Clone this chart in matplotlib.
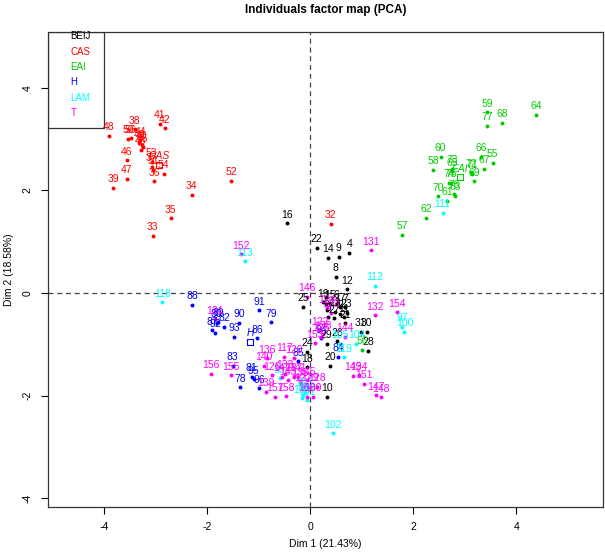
import matplotlib.pyplot as plt
from matplotlib.patches import Rectangle

plt.rcParams['font.family'] = ['Liberation Sans', 'DejaVu Sans']
plt.rcParams['axes.unicode_minus'] = False

# individuals per group: labels, Dim 1, Dim 2
beij_ids = [16, 22, 14, 9, 4, 8, 12, 25, 19, 1, 15, 6, 17, 7, 5, 13, 2, 23, 11, 3,
            21, 31, 30, 28, 20, 18, 10, 29, 24, 26, 27]
beij_x = [-0.45, 0.13, 0.35, 0.56, 0.76, 0.50, 0.71, -0.14, 0.26, 0.31, 0.39, 0.52, 0.58, 0.68,
          0.32, 0.48, 0.58, 0.71, 0.65, 0.35, 0.68, 0.98, 1.10, 1.13, 0.39, -0.06, 0.32, 0.32,
          -0.06, 0.52, 0.47]
beij_y = [1.36, 0.88, 0.69, 0.71, 0.79, 0.32, 0.08, -0.27, -0.18, -0.22, -0.20, -0.20, -0.27,
          -0.28, -0.33, -0.36, -0.40, -0.38, -0.47, -0.46, -0.59, -0.75, -0.75, -1.12, -1.42,
          -1.45, -2.02, -0.99, -1.14, -0.94, -0.49]

cas_ids = [32, 33, 34, 35, 36, 37, 38, 39, 40, 41, 42, 43, 44, 45, 46, 47, 48, 49, 50, 51,
           52, 53, 54, 56]
cas_x = [0.40, -3.05, -2.29, -2.70, -3.02, -3.07, -3.40, -3.82, -3.26, -2.91, -2.82, -3.28,
         -3.29, -3.24, -3.55, -3.55, -3.90, -3.31, -3.52, -3.04, -1.53, -3.07, -2.84, -3.48]
cas_y = [1.35, 1.12, 1.92, 1.46, 2.18, 2.46, 3.19, 2.05, 2.89, 3.30, 3.21, 2.79, 2.98, 2.84,
         2.59, 2.23, 3.07, 2.92, 3.01, 2.40, 2.19, 2.56, 2.33, 3.02]

eai_ids = [55, 57, 58, 59, 60, 61, 62, 63, 64, 65, 66, 67, 68, 69, 70, 71, 72, 73, 74, 75,
           76, 77, 56]
eai_x = [3.54, 1.78, 2.39, 3.44, 2.53, 2.66, 2.25, 2.82, 4.38, 2.75, 3.31, 3.38, 3.72, 3.18,
         2.48, 3.15, 3.13, 2.76, 2.69, 2.73, 2.79, 3.43, 1.01]
eai_y = [2.54, 1.14, 2.40, 3.53, 2.66, 1.80, 1.47, 1.90, 3.48, 2.38, 2.66, 2.42, 3.32, 2.18,
         1.89, 2.33, 2.36, 2.42, 2.15, 2.15, 1.94, 3.26, -1.10]

h_ids = [78, 79, 80, 81, 82, 83, 84, 85, 86, 87, 88, 89, 90, 91, 92, 93, 94, 95, 96]
h_x = [-1.35, -0.75, -1.81, -1.13, -1.66, -1.50, 0.54, -0.23, -1.03, -1.90, -2.28, -1.78,
       -1.37, -0.99, -1.84, -1.47, 0.21, -1.09, -0.99]
h_y = [-1.84, -0.57, -0.58, -1.63, -0.66, -1.42, -1.24, -1.33, -0.88, -0.72, -0.23, -0.56,
       -0.58, -0.33, -0.77, -0.85, -0.88, -1.68, -1.86]

lam_ids = [97, 98, 99, 100, 101, 102, 103, 104, 105, 108, 111, 112, 113, 118, 119]
lam_x = [1.78, -0.59, -0.13, 1.83, -0.06, 0.44, -0.10, 0.90, 0.58, -0.16, 2.57, 1.26, -1.26,
         -2.86, 0.65]
lam_y = [-0.66, -1.66, -1.99, -0.75, -2.09, -2.73, -1.92, -0.99, -0.99, -2.05, 1.57, 0.14,
         0.62, -0.18, -1.25]

t_ids = [117, 120, 121, 122, 123, 124, 125, 126, 127, 128, 129, 130, 131, 132, 133, 134, 135,
         136, 137, 138, 139, 140, 141, 142, 143, 144, 145, 146, 147, 148, 149, 150, 151, 152,
         153, 154, 155, 156, 157, 158]
t_x = [-0.50, -0.32, -1.84, 0.19, 0.40, 0.33, 0.22, -0.74, -0.13, 0.13, 0.00, 0.06, 1.18, 1.26,
       -0.48, 0.94, -0.19, -0.83, -0.32, 0.25, -0.85, -0.90, -0.23, -0.55, -0.42, 0.68, -0.06,
       -0.06, 1.28, 1.38, 0.84, -0.06, 1.05, -1.34, 0.10, 1.69, -1.53, -1.92, -0.68, -0.47]
t_y = [-1.24, -1.27, -0.51, -0.72, -0.38, -0.30, -0.85, -1.60, -1.83, -1.83, -1.83, -2.02, 0.84,
       -0.43, -1.57, -1.60, -1.73, -1.27, -1.63, -0.80, -1.92, -1.42, -1.63, -1.63, -1.70, -0.85,
       -1.70, -0.07, -1.99, -2.03, -1.61, -2.02, -1.77, 0.76, -0.98, -0.37, -1.60, -1.57, -2.02,
       -2.01]

# group means (quali labels)
mean_names = ['CAS', 'EAI', 'H']
mean_x = [-2.92, 2.91, -1.16]
mean_y = [2.50, 2.26, -0.95]

group_names = ['BEIJ', 'CAS', 'EAI', 'H', 'LAM', 'T']
group_colors = ['black', '#FF0000', '#00CD00', '#0000FF', '#00FFFF', '#FF00FF']

groups = [(beij_ids, beij_x, beij_y), (cas_ids, cas_x, cas_y), (eai_ids, eai_x, eai_y),
          (h_ids, h_x, h_y), (lam_ids, lam_x, lam_y), (t_ids, t_x, t_y)]

fig = plt.figure(figsize=(6.05, 5.58), dpi=100)
ax = fig.add_axes([0.0793, 0.0914, 0.9174, 0.8513])

ax.axhline(0, color='#444444', lw=0.9, ls=(0, (4, 3)), zorder=1)
ax.axvline(0, color='#444444', lw=0.9, ls=(0, (4, 3)), zorder=1)

for (ids, xs, ys), col in zip(groups, group_colors):
    ax.scatter(xs, ys, s=8, color=col, zorder=3, linewidths=0)
    for i, x, y in zip(ids, xs, ys):
        ax.annotate(str(i), (x, y), xytext=(0, 2.5), textcoords='offset points',
                    ha='center', va='bottom', fontsize=7.5, color=col, zorder=4)

mean_cols = [group_colors[group_names.index(n)] for n in mean_names]
for n, x, y, col in zip(mean_names, mean_x, mean_y, mean_cols):
    ax.scatter([x], [y], s=18, marker='s', facecolors='none', edgecolors=col, linewidths=0.8,
               zorder=3)
    ax.annotate(n, (x, y), xytext=(0, 2.5), textcoords='offset points', ha='center',
                va='bottom', fontsize=7.5, color=col, style='italic', zorder=4)

ax.set_xlim(-5.08, 5.68)
ax.set_ylim(-4.17, 5.09)
ax.set_xticks([-4, -2, 0, 2, 4])
ax.set_yticks([-4, -2, 0, 2, 4])
ax.tick_params(labelsize=7.5, length=5, width=0.8, direction='out', pad=6)
for lbl in ax.get_yticklabels():
    lbl.set_rotation(90)
    lbl.set_va('center')
for sp in ax.spines.values():
    sp.set_linewidth(0.9)
    sp.set_color('#333333')

ax.set_xlabel('Dim 1 (21.43%)', fontsize=7.5, labelpad=5)
ax.set_ylabel('Dim 2 (18.58%)', fontsize=7.5, labelpad=6)
ax.set_title('Individuals factor map (PCA)', fontsize=8.5, fontweight='bold', pad=14)

# legend box in the top-left corner
ax.add_patch(Rectangle((0, 0.798), 0.101, 0.202, transform=ax.transAxes, fill=False,
                       edgecolor='#333333', lw=0.9, zorder=5))
leg_y = [0.992, 0.958, 0.926, 0.895, 0.861, 0.829]
for n, col, y in zip(group_names, group_colors, leg_y):
    ax.text(0.041, y, n, transform=ax.transAxes, fontsize=7, color=col, va='center',
            ha='left', zorder=5)

fig.savefig('out.png', dpi=100)
